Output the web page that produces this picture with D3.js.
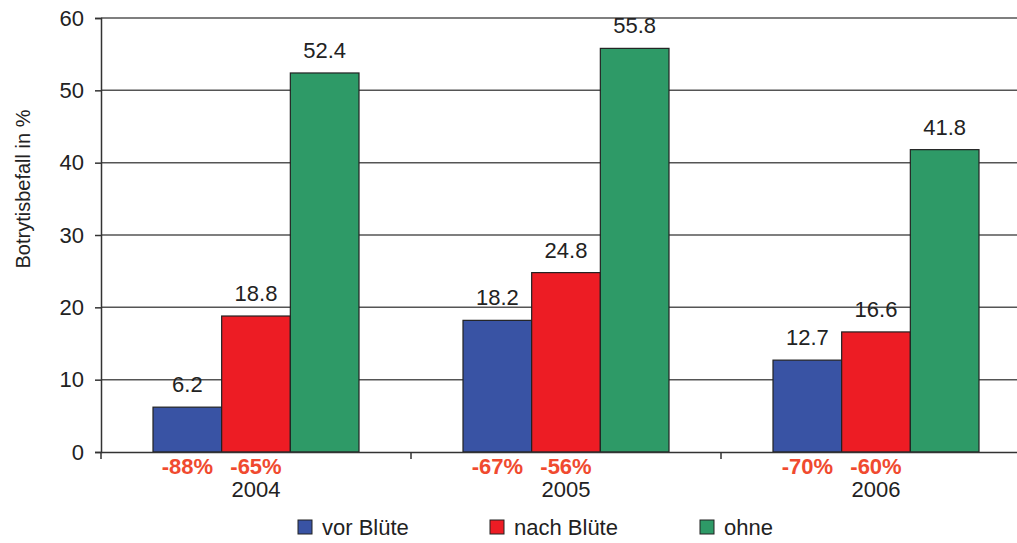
<!DOCTYPE html>
<html>
<head>
<meta charset="utf-8">
<style>
  body { margin: 0; background: #fff; }
  text { font-family: "Liberation Sans", Arial, sans-serif; }
</style>
</head>
<body>
<svg id="chart" width="1017" height="543"></svg>
<script src="https://cdn.jsdelivr.net/npm/d3@7"></script>
<script>
const years = ["2004", "2005", "2006"]
const series = ["vor Blüte", "nach Blüte", "ohne"]
const vorBluete = [6.2, 18.2, 12.7]
const nachBluete = [18.8, 24.8, 16.6]
const ohne = [52.4, 55.8, 41.8]
const reduction = [["-88%", "-65%"], ["-67%", "-56%"], ["-70%", "-60%"]]
const yTicks = [0, 10, 20, 30, 40, 50, 60]
const colors = ["#3953a4", "#ed1c24", "#2e9a67"]

const svg = d3.select("#chart")
const plotLeft = 101, plotRight = 1031, plotTop = 18, plotBottom = 452

const x = d3.scaleBand().domain(years).range([plotLeft, plotRight])
const xi = d3.scaleBand().domain(series).range([0, 206])
const y = d3.scaleLinear().domain([0, 60]).range([plotBottom, plotTop])

const values = [vorBluete, nachBluete, ohne]
const data = []
years.forEach((yr, i) => series.forEach((s, j) => data.push({ yr, s, j, v: values[j][i] })))

// gridlines
svg.append("g").selectAll("line")
    .data(yTicks.filter(t => t > 0))
    .enter().append("line")
    .attr("x1", plotLeft).attr("x2", plotRight)
    .attr("y1", d => y(d)).attr("y2", d => y(d))
    .attr("stroke", "#555").attr("stroke-width", 1.5)

// bars
const off = (x.bandwidth() - 206) / 2
svg.append("g").selectAll("rect")
    .data(data)
    .enter().append("rect")
    .attr("x", d => x(d.yr) + off + xi(d.s))
    .attr("y", d => y(d.v))
    .attr("width", xi.bandwidth())
    .attr("height", d => y(0) - y(d.v))
    .attr("fill", d => colors[d.j])
    .attr("stroke", "#222").attr("stroke-width", 1.2)

// value labels
svg.append("g").selectAll("text")
    .data(data)
    .enter().append("text")
    .attr("x", d => x(d.yr) + off + xi(d.s) + xi.bandwidth() / 2)
    .attr("y", d => y(d.v) - 15)
    .attr("text-anchor", "middle")
    .attr("font-size", 22).attr("fill", "#222")
    .text(d => d.v.toFixed(1))

// y axis
const yAxis = svg.append("g")
    .attr("transform", `translate(${plotLeft},0)`)
    .call(d3.axisLeft(y).tickValues(yTicks).tickSize(6).tickPadding(11))
yAxis.select(".domain").attr("stroke", "#333").attr("stroke-width", 1.5)
yAxis.selectAll(".tick line").attr("stroke", "#333").attr("stroke-width", 1.5)
yAxis.selectAll(".tick text").attr("font-size", 22).attr("fill", "#222")
    .attr("font-family", "Liberation Sans, Arial, sans-serif")

// x axis
const xAxis = svg.append("g")
    .attr("transform", `translate(0,${plotBottom})`)
    .call(d3.axisBottom(x).tickSize(0).tickFormat(""))
xAxis.select(".domain").attr("stroke", "#333").attr("stroke-width", 1.5)
xAxis.selectAll(".cat-tick")
    .data(years)
    .enter().append("line")
    .attr("x1", d => x(d)).attr("x2", d => x(d))
    .attr("y1", 0).attr("y2", 7)
    .attr("stroke", "#333").attr("stroke-width", 1.5)

// year labels
svg.append("g").selectAll("text")
    .data(years)
    .enter().append("text")
    .attr("x", d => x(d) + x.bandwidth() / 2)
    .attr("y", 497)
    .attr("text-anchor", "middle")
    .attr("font-size", 22).attr("fill", "#222")
    .text(d => d)

// reduction labels
const redData = []
years.forEach((yr, i) => reduction[i].forEach((r, j) => redData.push({ yr, s: series[j], r })))
svg.append("g").selectAll("text")
    .data(redData)
    .enter().append("text")
    .attr("x", d => x(d.yr) + off + xi(d.s) + xi.bandwidth() / 2)
    .attr("y", 474)
    .attr("text-anchor", "middle")
    .attr("font-size", 22).attr("font-weight", "bold").attr("fill", "#f04a2f")
    .text(d => d.r)

// y title
svg.append("text")
    .attr("transform", "translate(30,189) rotate(-90)")
    .attr("text-anchor", "middle")
    .attr("font-size", 20).attr("fill", "#222")
    .text("Botrytisbefall in %")

// legend
const legendX = [298, 490, 700]
const lg = svg.append("g").selectAll("g")
    .data(series)
    .enter().append("g")
    .attr("transform", (d, i) => `translate(${legendX[i]},520)`)
lg.append("rect")
    .attr("width", 14).attr("height", 14)
    .attr("fill", (d, i) => colors[i])
    .attr("stroke", "#222").attr("stroke-width", 1)
lg.append("text")
    .attr("x", 24).attr("y", 15)
    .attr("font-size", 22).attr("fill", "#222")
    .text(d => d)
</script>
</body>
</html>
